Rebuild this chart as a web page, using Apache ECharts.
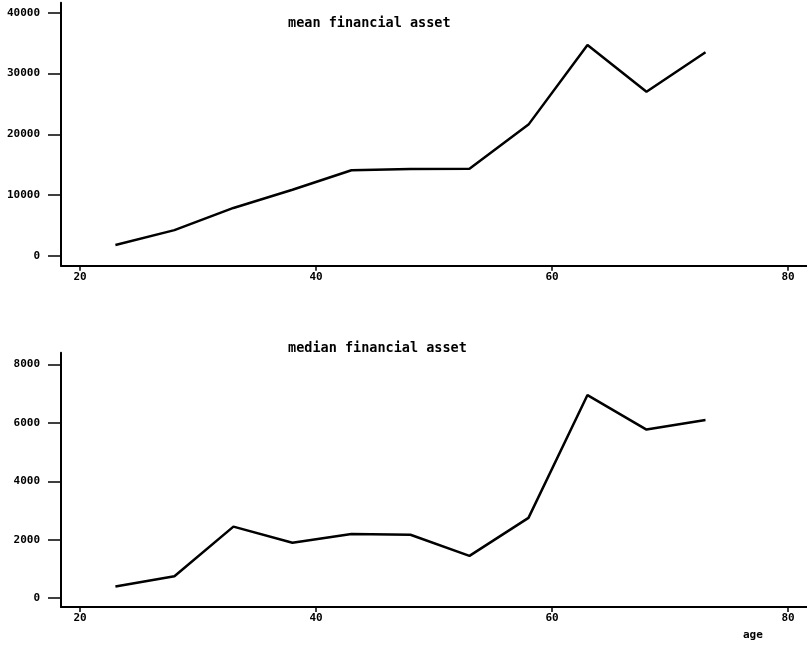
<!DOCTYPE html>
<html>
<head>
<meta charset="utf-8">
<script src="https://cdn.jsdelivr.net/npm/echarts@6/dist/echarts.min.js"></script>
<style>html,body{margin:0;padding:0;background:#fff}#c{width:807px;height:648px}</style>
</head>
<body>
<div id="c"></div>
<script>
const ages = [23, 28, 33, 38, 43, 48, 53, 58, 63, 68, 73];
const meanAsset = [1800, 4250, 7900, 10900, 14100, 14300, 14350, 21600, 34700, 27000, 33500];
const medianAsset = [400, 750, 2450, 1900, 2200, 2170, 1450, 2750, 6950, 5770, 6100];
const xTicks = [20, 40, 60, 80];
const meanTicks = [0, 10000, 20000, 30000, 40000];
const medianTicks = [0, 2000, 4000, 6000, 8000];
const titles = ['mean financial asset', 'median financial asset'];
const xName = 'age';

const FONT = 'DejaVu Sans Mono';
const chart = echarts.init(document.getElementById('c'), null, {renderer: 'canvas'});

function xAxisCfg(idx) {
  return {
    type: 'value', gridIndex: idx, min: 18.39, max: 81.6,
    axisLine: {onZero: false, lineStyle: {color: '#000', width: 2}},
    axisTick: {show: true, inside: false, length: 5, customValues: xTicks, lineStyle: {color: '#000', width: 1.5}},
    axisLabel: {customValues: xTicks, margin: 6, color: '#000', fontFamily: FONT, fontWeight: 'bold', fontSize: 11,
                formatter: v => String(v)},
    splitLine: {show: false}
  };
}
function yAxisCfg(idx, min, max, ticks) {
  return {
    type: 'value', gridIndex: idx, min: min, max: max,
    axisLine: {show: true, onZero: false, lineStyle: {color: '#000', width: 2}},
    axisTick: {show: true, inside: false, length: 13, customValues: ticks, lineStyle: {color: '#000', width: 1.5}},
    axisLabel: {customValues: ticks, margin: 21, color: '#000', fontFamily: FONT, fontWeight: 'bold', fontSize: 11,
                formatter: v => String(v)},
    splitLine: {show: false}
  };
}
function toPairs(xs, ys) { return xs.map((x, i) => [x, ys[i]]); }

const titleStyle = {fontFamily: FONT, fontWeight: 'bold', fontSize: 13.5, color: '#000'};
chart.setOption({
  animation: false,
  backgroundColor: '#fff',
  title: [
    {text: titles[0], left: 288, top: 16, padding: 0, textStyle: titleStyle},
    {text: titles[1], left: 288, top: 341, padding: 0, textStyle: titleStyle},
    {text: xName, left: 743, top: 630, padding: 0, textStyle: {fontFamily: FONT, fontWeight: 'bold', fontSize: 11, color: '#000'}}
  ],
  grid: [
    {left: 61, right: 0, top: 2.7, height: 263, containLabel: false, outerBoundsMode: 'none'},
    {left: 61, right: 0, top: 352.7, height: 254.3, containLabel: false, outerBoundsMode: 'none'}
  ],
  xAxis: [xAxisCfg(0), xAxisCfg(1)],
  yAxis: [
    yAxisCfg(0, -1600, 41650, meanTicks),
    yAxisCfg(1, -300, 8400, medianTicks)
  ],
  series: [
    {type: 'line', xAxisIndex: 0, yAxisIndex: 0, data: toPairs(ages, meanAsset), showSymbol: false,
     lineStyle: {color: '#000', width: 2.5}},
    {type: 'line', xAxisIndex: 1, yAxisIndex: 1, data: toPairs(ages, medianAsset), showSymbol: false,
     lineStyle: {color: '#000', width: 2.5}}
  ]
});
</script>
</body>
</html>
